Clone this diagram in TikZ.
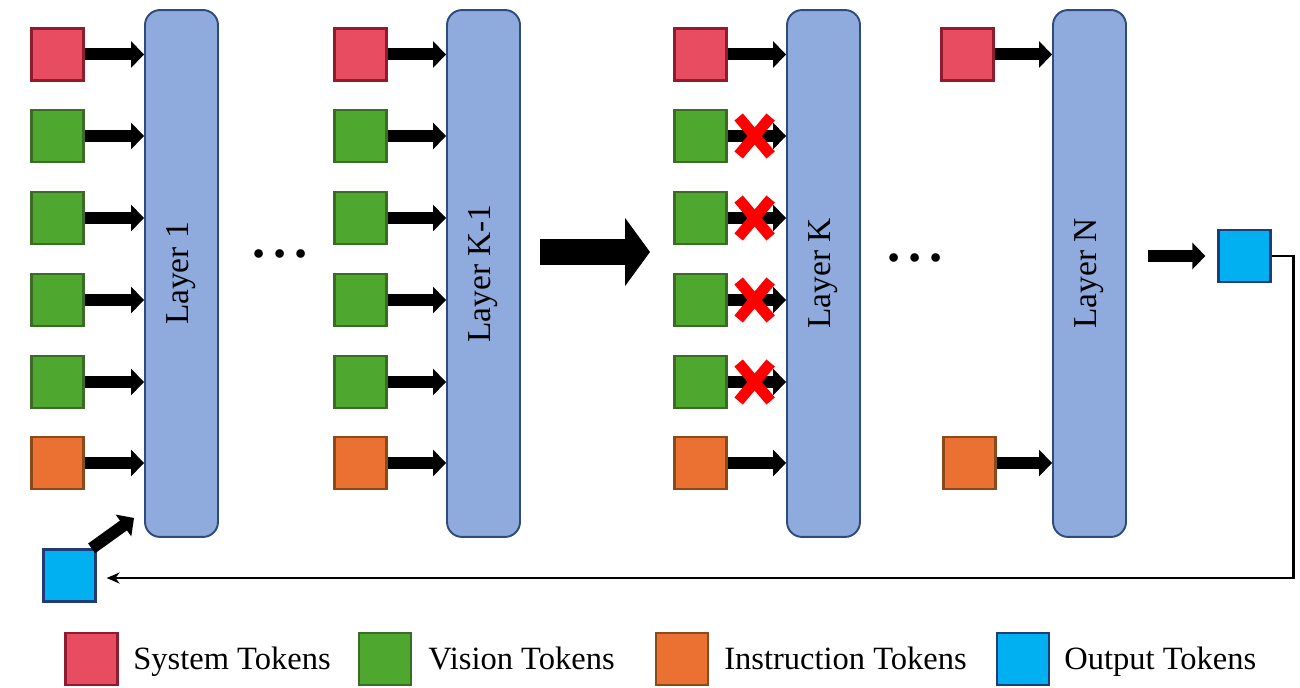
\documentclass[tikz,border=0pt]{standalone}
\usepackage{fontspec}
\setmainfont{Liberation Serif}
\usetikzlibrary{arrows.meta}

\definecolor{sysfill}{HTML}{E84C61}
\definecolor{sysline}{HTML}{8E1B2E}
\definecolor{visfill}{HTML}{4EA72E}
\definecolor{visline}{HTML}{3B6B24}
\definecolor{insfill}{HTML}{EB7132}
\definecolor{insline}{HTML}{8A4A1A}
\definecolor{outfill}{HTML}{00B0F0}
\definecolor{outline}{HTML}{1F3C78}
\definecolor{layfill}{HTML}{8FAADC}
\definecolor{layline}{HTML}{2F4B7C}

\tikzset{
	tok/.style={line width=1.3pt, minimum size=1.04cm, inner sep=0pt},
	systok/.style={tok, draw=sysline, fill=sysfill},
	vistok/.style={tok, draw=visline, fill=visfill},
	instok/.style={tok, draw=insline, fill=insfill},
	outtok/.style={tok, draw=outline, fill=outfill},
	layer/.style={draw=layline, fill=layfill, line width=1.1pt, rounded corners=0.3cm,
		minimum width=1.46cm, minimum height=10.54cm, inner sep=0pt,
		font=\fontsize{19}{22}\selectfont},
	feed/.style={line width=1.4pt, -{Stealth[length=0.26cm, width=0.22cm]}},
	tokarrow/.style={line width=0.24cm, -{Triangle[length=0.26cm, width=0.52cm]}},
	bigarrow/.style={line width=0.52cm, -{Triangle[length=0.5cm, width=1.34cm]}},
	drop/.style={red, line width=0.22cm},
	legtext/.style={anchor=base west, inner sep=0pt, font=\fontsize{18.5}{22}\selectfont},
	dots/.style={font=\fontsize{30}{34}\selectfont\bfseries}
}

\begin{document}
\begin{tikzpicture}[x=0.02cm, y=-0.02cm]

	\useasboundingbox (0,0) rectangle (1300,688);

	% layers
	\node[layer] (L1) at (181.5,273.5) {\rotatebox{90}{Layer 1}};
	\node[layer] (LK1) at (483.5,273.5) {\rotatebox{90}{Layer K-1}};
	\node[layer] (LK) at (823.5,273.5) {\rotatebox{90}{Layer K}};
	\node[layer] (LN) at (1089.5,273.5) {\rotatebox{90}{Layer N}};

	% tokens into layer 1, layer K-1 and layer K
	\foreach \c/\x/\l in {1/57.5/L1, 2/360.5/LK1, 3/700.5/LK} {
		\node[systok] (s\c) at (\x,54.5) {};
		\foreach \r/\y in {1/136,2/218,3/300,4/382}
			\node[vistok] (v\c\r) at (\x,\y) {};
		\node[instok] (i\c) at (\x,463) {};
		\foreach \n in {s\c,v\c1,v\c2,v\c3,v\c4,i\c}
			\draw[tokarrow] (\n.east) -- (\n.east -| \l.west);
	}

	% tokens into layer N
	\node[systok] (s4) at (967.5,54.5) {};
	\node[instok] (i4) at (969.5,463) {};
	\draw[tokarrow] (s4.east) -- (s4.east -| LN.west);
	\draw[tokarrow] (i4.east) -- (i4.east -| LN.west);

	% dropped vision tokens
	\foreach \n in {v31,v32,v33,v34} {
		\coordinate (x\n) at ([xshift=0.54cm]\n.east);
		\draw[drop] (x\n) ++(-16,-19) -- ++(32,38) (x\n) ++(-16,19) -- ++(32,-38);
	}

	\node[dots] (d1) at (280,254) {.\hspace{0.15cm}.\hspace{0.15cm}.};
	\node[dots] (d2) at (915,258) {.\hspace{0.15cm}.\hspace{0.15cm}.};

	\coordinate (bigfrom) at (540,252);
	\coordinate (bigto) at (650,252);
	\draw[bigarrow] (bigfrom) -- (bigto);

	% output token and feedback
	\node[outtok] (out) at (1244.5,256) {};
	\node[outtok] (inp) at (69.5,575.5) {};
	\draw[tokarrow] ([xshift=0.42cm]LN.east |- out.west) -- ([xshift=-0.24cm]out.west);
	\draw[feed] (out.east) -- ++(22,0) |- ([xshift=0.2cm, yshift=-0.05cm]inp.east);
	\draw[tokarrow] ([xshift=-0.1cm]inp.north east) -- ([xshift=-0.2cm, yshift=0.4cm]L1.south west);

	% legend
	\node[systok] (ls) at (91.5,659) {};
	\node[legtext] (lst) at (133,669) {System Tokens};
	\node[vistok] (lv) at (385,659) {};
	\node[legtext] (lvt) at (428,669) {Vision Tokens};
	\node[instok] (li) at (682,659) {};
	\node[legtext] (lit) at (724,669) {Instruction Tokens};
	\node[outtok] (lo) at (1023,659) {};
	\node[legtext] (lot) at (1064,669) {Output Tokens};

\end{tikzpicture}
\end{document}
